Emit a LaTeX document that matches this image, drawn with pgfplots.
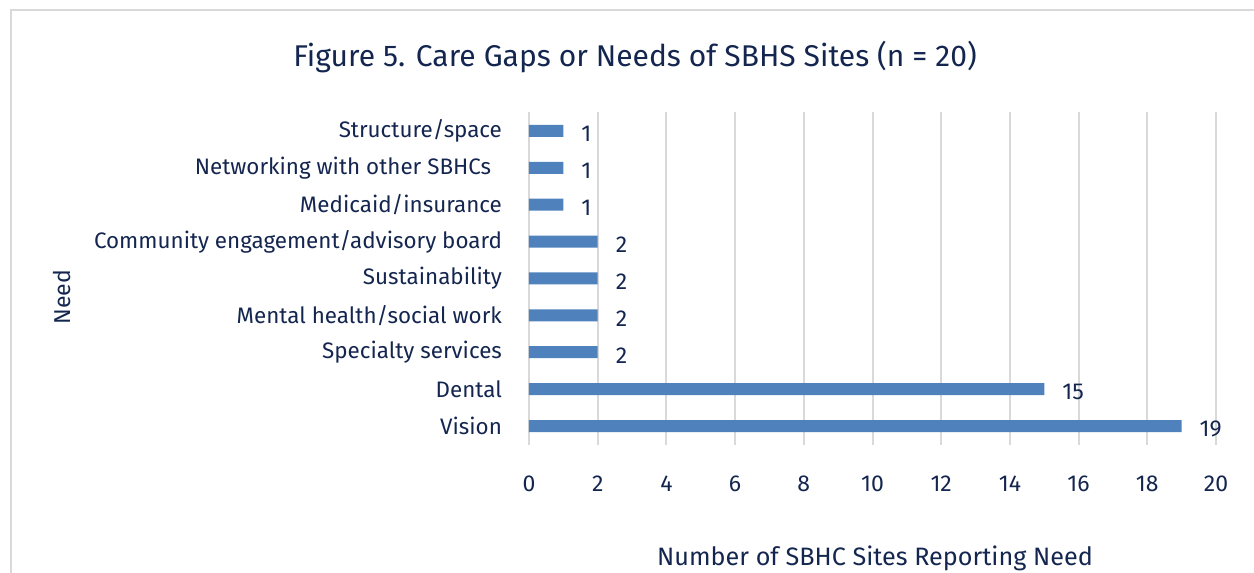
\documentclass[border=0pt]{standalone}
\usepackage{fontspec}
\setmainfont{Fira Sans}
\usepackage{pgfplots}
\pgfplotsset{compat=1.18}
\definecolor{navy}{HTML}{14264F}
\definecolor{barblue}{HTML}{4F81BD}
\definecolor{gridgray}{HTML}{D9D9D9}

\begin{document}
\begin{tikzpicture}
\useasboundingbox (0,0) rectangle (627pt,286.5pt);
\begin{scope}
\clip (0,0) rectangle (627pt,286.5pt);
\draw[gridgray, line width=1pt] (5.5pt,-20pt) -- (5.5pt,281.5pt) -- (700pt,281.5pt);
\node[navy, font=\fontsize{15}{18}\selectfont] at (317.5pt,258pt) {Figure 5. Care Gaps or Needs of SBHS Sites (n = 20)};
\node[navy, font=\fontsize{11.5}{14}\selectfont, rotate=90] at (31pt,138pt) {Need};
\node[navy, font=\fontsize{12.6}{15}\selectfont, anchor=base] at (437.5pt,3.6pt) {Number of SBHC Sites Reporting Need};
\begin{axis}[
  at={(264.5pt,64pt)}, anchor=south west,
  scale only axis, width=343.5pt, height=166.5pt,
  xbar, bar width=6pt,
  xmin=0, xmax=20, ymin=-0.515, ymax=8.515,
  xtick={0,2,...,20},
  ytick={0,...,8},
  yticklabels={Vision,Dental,Specialty services,Mental health/social work,Sustainability,Community engagement/advisory board,Medicaid/insurance,Networking with other SBHCs\phantom{x},Structure/space},
  axis line style={draw=none},
  major tick length=0pt,
  xmajorgrids, grid style={gridgray, line width=1pt},
  tick label style={navy, font=\fontsize{11.5}{14}\selectfont},
  yticklabel style={font=\fontsize{11.2}{14}\selectfont, xshift=-10pt},
  xticklabel style={yshift=-12pt},
  /pgf/number format/assume math mode=true,
  nodes near coords,
  every node near coord/.append style={navy, font=\fontsize{11.5}{14}\selectfont, anchor=west, xshift=5.5pt, yshift=-1.5pt},
]
\addplot[fill=barblue, draw=none] coordinates {
  (19,0) (15,1) (2,2) (2,3) (2,4) (2,5) (1,6) (1,7) (1,8)
};
\end{axis}
\end{scope}
\end{tikzpicture}
\end{document}
